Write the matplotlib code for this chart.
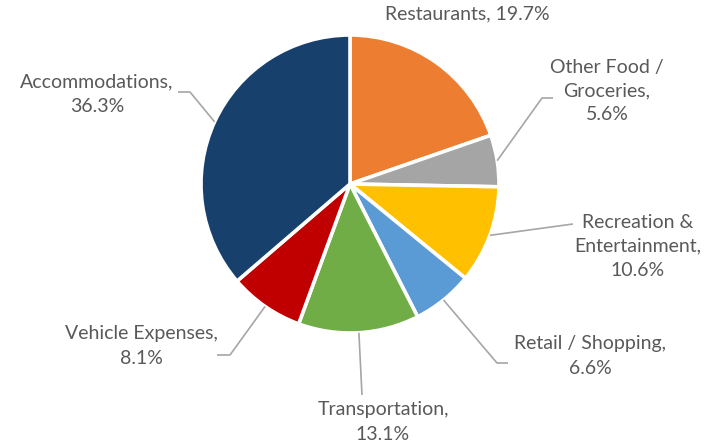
import numpy as np
import matplotlib
matplotlib.use("Agg")
import matplotlib.pyplot as plt

categories = ["Restaurants", "Other Food /\nGroceries", "Recreation &\nEntertainment",
              "Retail / Shopping", "Transportation", "Vehicle Expenses", "Accommodations"]
shares = [19.7, 5.6, 10.6, 6.6, 13.1, 8.1, 36.3]
colors = ["#ED7D31", "#A5A5A5", "#FFC000", "#5B9BD5", "#70AD47", "#C00000", "#17406D"]

# layout in image pixels (x right, y down)
W, H = 716, 445
cx, cy, r = 350, 184, 149
# label centre, leader elbow, leader end (None = no leader)
label_pos = [(467, 14), (607, 91), (638, 246), (590, 356), (383, 422), (141, 346), (97, 94)]
elbows = [None, (542, 98), (573, 224), (497, 363), (362, 395), (230, 355), (190, 92)]
ends = [None, (553, 98), (573, 224), (508, 363), (362, 395), (217, 355), (178, 92)]
one_line = [True, False, False, False, False, False, False]

plt.rcParams['font.family'] = ['Lato', 'DejaVu Sans']

fig = plt.figure(figsize=(W / 100, H / 100), dpi=100)
ax = fig.add_axes([0, 0, 1, 1])

wedges, _ = ax.pie(shares, colors=colors, startangle=90, counterclock=False,
                   center=(cx, H - cy), radius=r,
                   wedgeprops=dict(edgecolor="white", linewidth=2.6))
ax.set_xlim(0, W)
ax.set_ylim(0, H)
ax.set_aspect("equal")
ax.axis("off")

line_col = "#A6A6A6"
for i, w in enumerate(wedges):
    mid = np.deg2rad((w.theta1 + w.theta2) / 2)
    sx = cx + r * np.cos(mid)
    sy = H - cy + r * np.sin(mid)
    if elbows[i] is not None:
        ex, ey = elbows[i]
        tx, ty = ends[i]
        ax.plot([sx, ex, tx], [sy, H - ey, H - ty], color=line_col, lw=1.2,
                solid_capstyle="butt", zorder=1)
    sep = " " if one_line[i] else "\n"
    text = f"{categories[i]},{sep}{shares[i]:.1f}%"
    lx, ly = label_pos[i]
    ax.text(lx, H - ly, text, ha="center", va="center", fontsize=14,
            color="#595959", linespacing=1.5)

fig.savefig("out.png", dpi=100, facecolor="white")
